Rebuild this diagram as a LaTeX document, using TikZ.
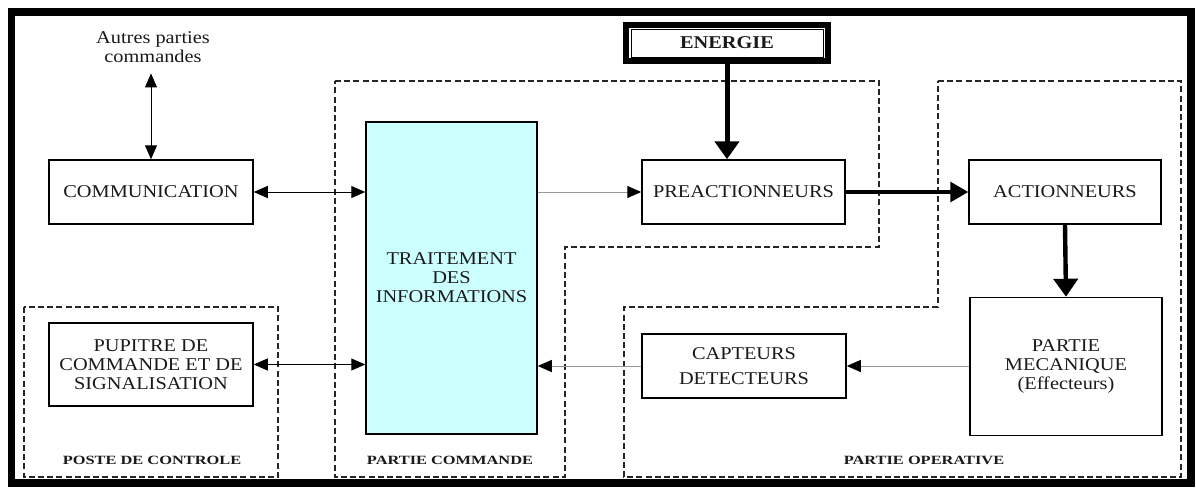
\documentclass[tikz,border=0pt]{standalone}
\usepackage{fontspec}
\setmainfont{Liberation Serif}[FakeStretch=1.13]
\newfontfamily\lblfont{Liberation Serif}[FakeStretch=1.3]
\usetikzlibrary{arrows.meta}
\definecolor{procfill}{HTML}{CCFFFF}
\definecolor{ink}{HTML}{1A1A1A}

\begin{document}
\begin{tikzpicture}[x=0.5pt,y=-0.5pt,
  txt/.style={font=\fontsize{9}{9.5}\selectfont, text=ink, align=center},
  blk/.style={txt, draw, line width=0.75pt, inner sep=0pt},
  zone/.style={draw=black!85, line width=0.7pt, dash pattern=on 3pt off 1.6pt},
  zlabel/.style={font=\lblfont\bfseries\fontsize{6.3}{7}\selectfont, anchor=base, text=ink},
  dblarrow/.style={line width=0.5pt, {Triangle[length=7pt,width=6pt]}-{Triangle[length=7pt,width=6pt]}},
  sigarrow/.style={draw=black!40, line width=0.5pt, -{Triangle[length=7pt,width=6pt,color=black]}},
  powarrow/.style={line width=#1, -{Triangle[length=9pt,width=12pt]}},
  powarrow/.default=2.5pt,
]
\useasboundingbox (0,0) rectangle (1196,488);
\fill[white] (0,0) rectangle (1196,488);

% regions of the automated system
\draw[zone] (24,307) rectangle (278,477);
\draw[zone] (335,81) -- (879,81) -- (879,247) -- (565,247) -- (565,477) -- (335,477) -- cycle;
\draw[zone] (938,81) -- (1181,81) -- (1181,477) -- (624,477) -- (624,307) -- (938,307) -- cycle;

\node[zlabel] (lposte) at (152,464) {POSTE DE CONTROLE};
\node[zlabel] (lcmd) at (450,464) {PARTIE COMMANDE};
\node[zlabel] (lop) at (924,464) {PARTIE OPERATIVE};

% functional blocks
\node[txt, inner xsep=0pt, inner ysep=5pt] (autres) at (153,47.5) {Autres parties\\commandes};
\node[blk, minimum width=102pt, minimum height=32pt] (comm) at (151,192) {COMMUNICATION};
\node[blk, fill=procfill, minimum width=85.5pt, minimum height=156pt] (trait) at (451.5,278) {TRAITEMENT\\DES\\INFORMATIONS};
\node[blk, minimum width=101.5pt, minimum height=32pt] (preact) at (743.5,192) {PREACTIONNEURS};
\node[blk, minimum width=96pt, minimum height=32pt] (act) at (1065,192) {ACTIONNEURS};
\node[blk, minimum width=96pt, minimum height=69pt] (meca) at (1066,366.5) {PARTIE\\MECANIQUE\\(Effecteurs)};
\node[blk, minimum width=102pt, minimum height=32pt] (capt) at (744,366) {CAPTEURS\\[3pt]DETECTEURS};
\node[blk, minimum width=102pt, minimum height=41.5pt] (pup) at (151,364.5) {PUPITRE DE\\COMMANDE ET DE\\SIGNALISATION};

% energy source with a double border
\node[txt, font=\bfseries\fontsize{9}{9.5}\selectfont, draw, line width=3pt, outer sep=0pt,
      minimum width=101pt, minimum height=18pt, inner sep=0pt] (energie) at (727,43) {ENERGIE};
\draw[line width=0.5pt] ([shift={(5,4)}]energie.north west) rectangle ([shift={(-5,-4)}]energie.south east);

% information links
\draw[dblarrow] (autres.south -| comm.north) -- (comm.north);
\draw[dblarrow] (comm.east) -- (comm.east -| trait.west);
\draw[dblarrow] (pup.east) -- (pup.east -| trait.west);
\draw[sigarrow] (trait.east |- preact.west) -- (preact.west);
\draw[sigarrow] (meca.west |- capt.east) -- (capt.east);
\draw[sigarrow] (capt.west) -- (capt.west -| trait.east);

% power links
\draw[powarrow=2.5pt] (energie.south) -- (energie.south |- preact.north);
\draw[line width=1.6pt, -{Triangle[length=9pt,width=10pt]}] (preact.east) -- (act.west);
\draw[powarrow=2.2pt] (act.south) -- (meca.north);

% outer frame
\draw[line width=3.75pt] (11.5,12) rectangle (1191,483);
\end{tikzpicture}
\end{document}
